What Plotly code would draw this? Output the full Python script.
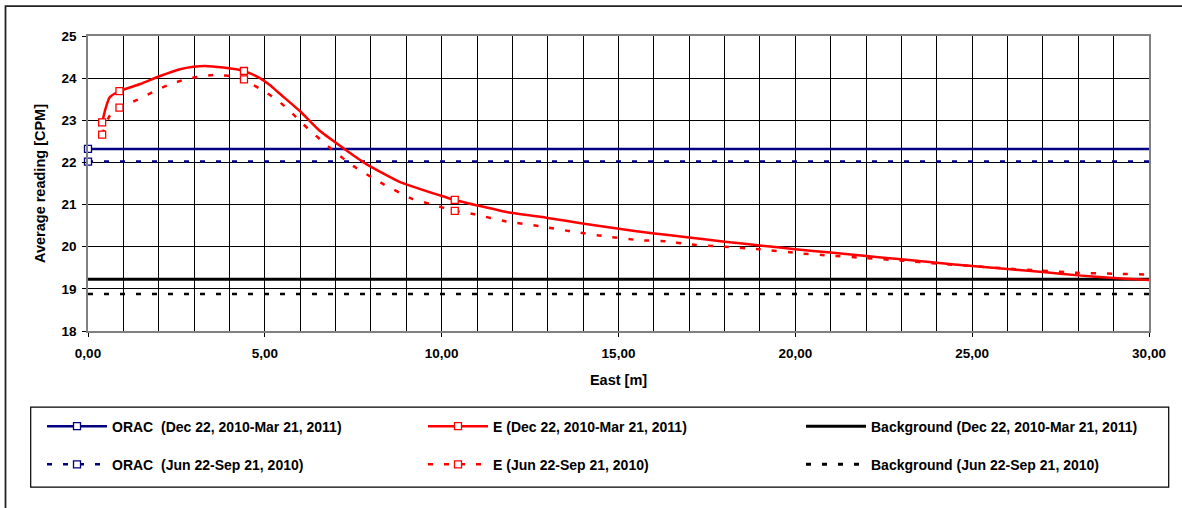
import plotly.graph_objects as go

# ---------------- data ----------------
E_DEC_X = [0.40, 0.49, 0.61, 0.89, 1.48, 2.04, 2.60, 2.98, 3.31, 3.83, 4.41, 4.62, 4.86, 5.15, 5.38, 5.99, 6.55,
           7.20, 7.87, 8.81, 9.94, 10.37, 11.91, 12.95, 13.98, 14.96, 15.95, 16.99, 18.0, 19.0, 20.0,
           21.0, 22.0, 23.0, 24.0, 25.0, 26.0, 27.0, 28.0, 29.0, 30.0, 30.15]
E_DEC_Y = [22.95, 23.26, 23.54, 23.69, 23.86, 24.05, 24.21, 24.27, 24.29, 24.25, 24.17, 24.10, 24.00, 23.83, 23.66, 23.22, 22.75,
           22.35, 21.96, 21.54, 21.22, 21.11, 20.81, 20.69, 20.55, 20.43, 20.32, 20.22, 20.12, 20.03, 19.94,
           19.86, 19.78, 19.70, 19.62, 19.54, 19.47, 19.40, 19.32, 19.26, 19.21, 19.20]

E_JUN_X = [0.40, 0.61, 0.89, 1.43, 1.83, 2.25, 2.74, 3.17, 3.64, 4.16, 4.41, 4.53, 4.95, 5.38, 5.71,
           6.08, 6.79, 7.49, 8.34, 9.18, 9.70, 10.37, 10.93, 11.82, 12.76, 13.69, 14.59, 15.52, 16.47,
           16.93, 18.0, 19.0, 20.17, 21.0, 22.0, 23.0, 24.0, 25.0, 26.0, 27.0, 28.0, 29.0, 30.0, 30.15]
E_JUN_Y = [22.66, 23.10, 23.30, 23.50, 23.67, 23.83, 23.97, 24.04, 24.08, 24.03, 23.97, 23.90, 23.71, 23.46, 23.22,
           22.91, 22.38, 21.92, 21.49, 21.13, 21.01, 20.85, 20.77, 20.60, 20.49, 20.36, 20.25, 20.16, 20.12,
           20.06, 20.00, 19.94, 19.84, 19.79, 19.73, 19.67, 19.60, 19.54, 19.48, 19.43, 19.38, 19.36, 19.34, 19.33]

E_MARK_X = [0.40, 0.89, 4.41, 10.37]
E_DEC_MARK_Y = [22.95, 23.69, 24.17, 21.11]
E_JUN_MARK_Y = [22.66, 23.30, 23.97, 20.85]

LEVEL_X = [0.0, 30.15]
ORAC_DEC = 22.32
ORAC_JUN = 22.02
BG_DEC = 19.23
BG_JUN = 18.88

NAMES = ["ORAC  (Dec 22, 2010-Mar 21, 2011)", "E (Dec 22, 2010-Mar 21, 2011)",
         "Background (Dec 22, 2010-Mar 21, 2011)",
         "ORAC  (Jun 22-Sep 21, 2010)", "E (Jun 22-Sep 21, 2010)",
         "Background (Jun 22-Sep 21, 2010)"]

X_TICKS = [0, 5, 10, 15, 20, 25, 30]
Y_TICKS = [18, 19, 20, 21, 22, 23, 24, 25]

# ---------------- styles ----------------
BLUE = "#000080"
RED = "#FF0000"
BLACK = "#000000"
DASH = "5px,11px"
FONT = "Liberation Sans, Arial, sans-serif"
FS_TICK = 13.5
FS_TITLE = 14.5
FS_LEG = 14

fig = go.Figure()

def line(x, y, color, dash, width=2.5):
    fig.add_trace(go.Scatter(x=x, y=y, mode="lines", showlegend=False, cliponaxis=False,
                             line=dict(color=color, width=width, dash=dash),
                             hoverinfo="skip"))

def marks(x, y, color):
    fig.add_trace(go.Scatter(x=x, y=y, mode="markers", showlegend=False, cliponaxis=False,
                             marker=dict(symbol="square", size=7, color="white",
                                         line=dict(color=color, width=1.3)),
                             hoverinfo="skip"))

# horizontal levels
line(LEVEL_X, [ORAC_DEC] * 2, BLUE, "solid", 2.5)
line(LEVEL_X, [ORAC_JUN] * 2, BLUE, DASH, 2.5)
line(LEVEL_X, [BG_DEC] * 2, BLACK, "solid", 3)
line(LEVEL_X, [BG_JUN] * 2, BLACK, DASH, 2.5)
marks([LEVEL_X[0]], [ORAC_DEC], BLUE)
marks([LEVEL_X[0]], [ORAC_JUN], BLUE)

# E curves
for xs, ys, d in [(E_JUN_X, E_JUN_Y, DASH), (E_DEC_X, E_DEC_Y, "solid")]:
    fig.add_trace(go.Scatter(x=xs, y=ys, mode="lines", showlegend=False, cliponaxis=False,
                             line=dict(color=RED, width=2.5, dash=d, shape="spline", smoothing=0.5),
                             hoverinfo="skip"))
marks(E_MARK_X, E_DEC_MARK_Y, RED)
marks(E_MARK_X, E_JUN_MARK_Y, RED)

L, R, T, B = 88, 33, 35.5, 177
W, H = 1182, 508
pw, ph = W - L - R, H - T - B

def px(xp):
    return (xp - L) / pw

def py(yp):
    return (H - B - yp) / ph

# legend entries: one legend per entry (3 columns x 2 rows)
COL_X = [42, 423, 801]
ROW_Y = [426.7, 465]
leg_specs = [
    (NAMES[0], BLUE, "solid", True, 0, 0),
    (NAMES[1], RED, "solid", True, 1, 0),
    (NAMES[2], BLACK, "solid", False, 2, 0),
    (NAMES[3], BLUE, DASH, True, 0, 1),
    (NAMES[4], RED, DASH, True, 1, 1),
    (NAMES[5], BLACK, DASH, False, 2, 1),
]
legend_layout = {}
for i, (name, color, dash, has_marker, c, r) in enumerate(leg_specs):
    key = "legend" if i == 0 else f"legend{i + 1}"
    fig.add_trace(go.Scatter(
        x=[None], y=[None], name=name, legend=key,
        mode="lines+markers" if has_marker else "lines",
        line=dict(color=color, width=2.5 if color != BLACK else 3, dash=dash),
        marker=dict(symbol="square", size=7, color="white", line=dict(color=color, width=1.3)),
    ))
    legend_layout[key] = dict(x=px(COL_X[c]), y=py(ROW_Y[r]), xanchor="left", yanchor="middle",
                              orientation="h", bgcolor="rgba(0,0,0,0)", borderwidth=0,
                              itemwidth=60,
                              font=dict(family=FONT, size=FS_LEG, color="black", weight="bold"))

fig.update_layout(
    width=W, height=H,
    margin=dict(l=L, r=R, t=T, b=B, pad=0),
    paper_bgcolor="white", plot_bgcolor="white",
    separators=",.",
    font=dict(family=FONT, size=FS_TICK, color="black"),
    xaxis=dict(range=[0, 30], tickvals=X_TICKS, tickformat=".2f",
               showgrid=True, gridcolor="#000000", gridwidth=1,
               minor=dict(dtick=1, showgrid=True, gridcolor="#000000", gridwidth=1, ticks=""),
               ticks="outside", ticklen=4, tickcolor="black", ticklabelstandoff=5,
               showline=True, linecolor="#808080", linewidth=1.5, mirror=True,
               tickfont=dict(family=FONT, size=FS_TICK, weight="bold"),
               title=dict(text="East [m]", font=dict(family=FONT, size=FS_TITLE, weight="bold"), standoff=15),
               zeroline=False),
    yaxis=dict(range=[18, 25], tickvals=Y_TICKS,
               showgrid=True, gridcolor="#000000", gridwidth=1,
               ticks="outside", ticklen=4, tickcolor="black", ticklabelstandoff=3,
               showline=True, linecolor="#808080", linewidth=1.5, mirror=True,
               tickfont=dict(family=FONT, size=FS_TICK, weight="bold"),
               title=dict(text="Average reading [CPM]", font=dict(family=FONT, size=FS_TITLE, weight="bold"), standoff=12),
               zeroline=False),
    shapes=[
        dict(type="rect", xref="paper", yref="paper",
             x0=px(30.7), x1=px(1168.7), y0=py(487.3), y1=py(407.3),
             line=dict(color="black", width=1.2), fillcolor="rgba(0,0,0,0)", layer="below"),
        dict(type="rect", xref="paper", yref="paper",
             x0=px(5.5), x1=px(1195), y0=py(520), y1=py(5.5),
             line=dict(color="#222222", width=1.8), fillcolor="rgba(0,0,0,0)", layer="below"),
    ],
    **legend_layout,
)

fig.write_html("out.html")
